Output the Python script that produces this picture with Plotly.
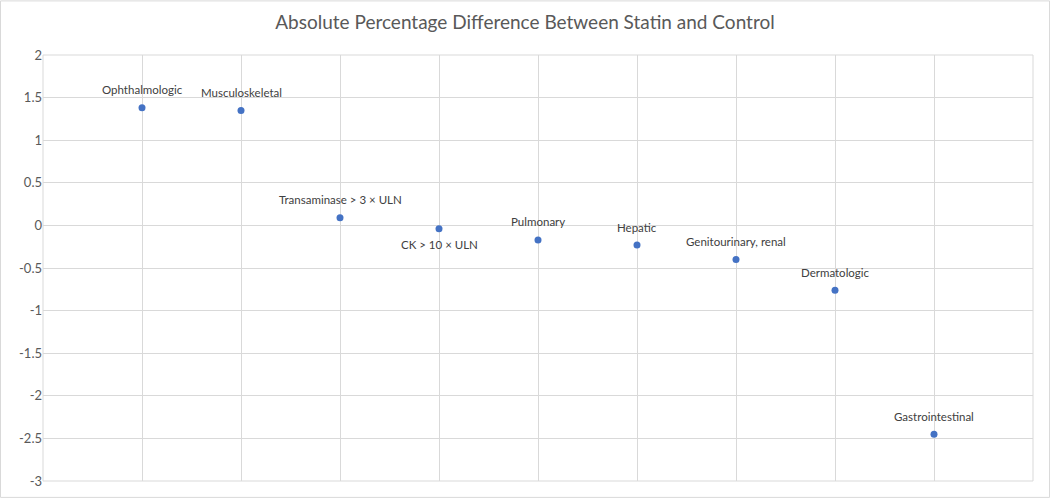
import plotly.graph_objects as go

# categories and values
categories = [
    "Ophthalmologic", "Musculoskeletal", "Transaminase > 3 × ULN", "CK > 10 × ULN",
    "Pulmonary", "Hepatic", "Genitourinary, renal", "Dermatologic", "Gastrointestinal",
]
x_pos = [1, 2, 3, 4, 5, 6, 7, 8, 9]
diff_pct = [1.38, 1.35, 0.09, -0.04, -0.17, -0.23, -0.40, -0.76, -2.45]
label_below = [False, False, False, True, False, False, False, False, False]
y_ticks = [2, 1.5, 1, 0.5, 0, -0.5, -1, -1.5, -2, -2.5, -3]

DOT = "#4472C4"
TXT = "#595959"
GRID = "#D9D9D9"
FONT = "Lato, 'Open Sans', sans-serif"

fig = go.Figure(go.Scatter(
    x=x_pos, y=diff_pct, mode="markers",
    text=categories,
    marker=dict(size=7, color=DOT),
    hovertemplate="<b>%{text}</b><br>%{y:.2f}<extra></extra>",
))

# data labels, above each point except CK (below)
for xv, yv, name, below in zip(x_pos, diff_pct, categories, label_below):
    fig.add_annotation(
        x=xv, y=yv, text=name, showarrow=False,
        yshift=-16 if below else 18,
        font=dict(size=11.5, color="#404040", family=FONT),
    )

fig.update_layout(
    width=1050, height=501,
    margin=dict(l=43, r=17, t=55, b=17),
    paper_bgcolor="white", plot_bgcolor="white",
    font=dict(family=FONT, size=12, color=TXT),
    title=dict(text="Absolute Percentage Difference Between Statin and Control",
               font=dict(size=19, color=TXT, family=FONT),
               x=0.5, xanchor="center", y=0.956, yanchor="middle", yref="container"),
    showlegend=False,
    xaxis=dict(range=[0, 10], dtick=1, showticklabels=False, showgrid=True,
               gridcolor=GRID, zeroline=False, showline=False, fixedrange=True),
    yaxis=dict(range=[-3, 2], tickvals=y_ticks, ticktext=[f"{v:g}" for v in y_ticks],
               showgrid=True, gridcolor=GRID, zeroline=False, showline=False,
               tickfont=dict(size=13, color=TXT), ticks="", ticklen=0,
               fixedrange=True),
)

# plot area edge lines (left/right gridlines at x=0 and x=10)
fig.add_shape(type="rect", xref="paper", yref="paper", x0=0, x1=1, y0=0, y1=1,
              line=dict(color=GRID, width=1), layer="below")
# chart area border
fig.add_shape(type="rect", xref="paper", yref="paper",
              x0=-0.0429, x1=1.0167, y0=-0.0385, y1=1.127,
              line=dict(color=GRID, width=1))

fig.write_html("out.html", config={"displayModeBar": False},
               post_script="document.body.style.margin='0';")
